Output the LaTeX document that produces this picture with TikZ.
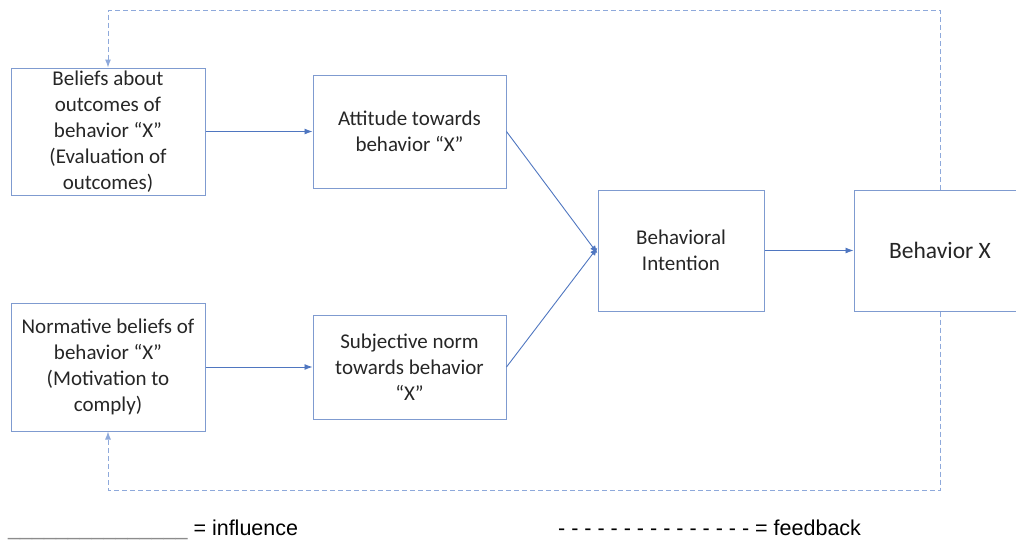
\documentclass[tikz,border=0pt]{standalone}
\usepackage{fontspec}
\setmainfont{Carlito}
\newfontfamily\legendfont{Liberation Sans}
\usetikzlibrary{arrows.meta}
\definecolor{boxline}{HTML}{7F9BD0}
\definecolor{arrowline}{HTML}{4F76C0}
\definecolor{fbline}{HTML}{8EA9DB}
\tikzset{
  box/.style={draw=boxline, line width=1pt, align=center, inner sep=0pt,
    font=\fontsize{21}{26}\selectfont, text=black!85},
  infl/.style={draw=arrowline, line width=0.9pt, -{Latex[length=8pt,width=6pt]}},
  fb/.style={draw=fbline, line width=1pt, dash pattern=on 5pt off 3pt,
    -{Latex[length=8pt,width=6pt]}},
  legend/.style={anchor=base west, inner sep=0pt,
    font=\legendfont\fontsize{21.5}{24}\selectfont}
}
\begin{document}
\begin{tikzpicture}[x=1pt,y=-1pt]
  \useasboundingbox (0,0) rectangle (1016,539);
  \node [box, minimum width=194, minimum height=127] (beliefs) at (108, 131.5)
    {Beliefs about\\outcomes of\\behavior “X”\\(Evaluation of\\outcomes)};
  \node [box, minimum width=193, minimum height=113] (attitude) at (409.5, 131.5)
    {Attitude towards\\behavior “X”};
  \node [box, minimum width=194, minimum height=128] (normative) at (108, 367)
    {Normative beliefs of\\behavior “X”\\(Motivation to\\comply)};
  \node [box, minimum width=193, minimum height=104] (subjective) at (409.5, 367)
    {Subjective norm\\towards behavior\\“X”};
  \node [box, minimum width=166, minimum height=121] (intention) at (681, 250.5)
    {Behavioral\\Intention};
  \node [box, minimum width=172, minimum height=121, font=\fontsize{23.5}{26}\selectfont]
    (behavior) at (940, 250.5) {Behavior X};
  \coordinate (fbtopR) at (940, 10);
  \coordinate (fbtopL) at (108, 10);
  \coordinate (fbbotR) at (940, 490);
  \coordinate (fbbotL) at (108, 490);
  \draw [infl] (beliefs) -- (attitude);
  \draw [infl] (normative) -- (subjective);
  \draw [infl] (attitude.east) -- ([yshift=-3pt]intention.west);
  \draw [infl] (subjective.east) -- ([yshift=3pt]intention.west);
  \draw [infl] (intention) -- (behavior);
  \draw [fb] (behavior.north) -- (fbtopR) -- (fbtopL) -- (beliefs.north);
  \draw [fb] (behavior.south) -- (fbbotR) -- (fbbotL) -- (normative.south);
  \node [legend] (influence) at (8, 535)
    {\textcolor{black!45}{\_\_\_\_\_\_\_\_\_\_\_\_\_\_\_}\ = influence};
  \node [legend] (feedback) at (558, 535)
    {- - - - - - - - - - - - - - - = feedback};
\end{tikzpicture}
\end{document}
